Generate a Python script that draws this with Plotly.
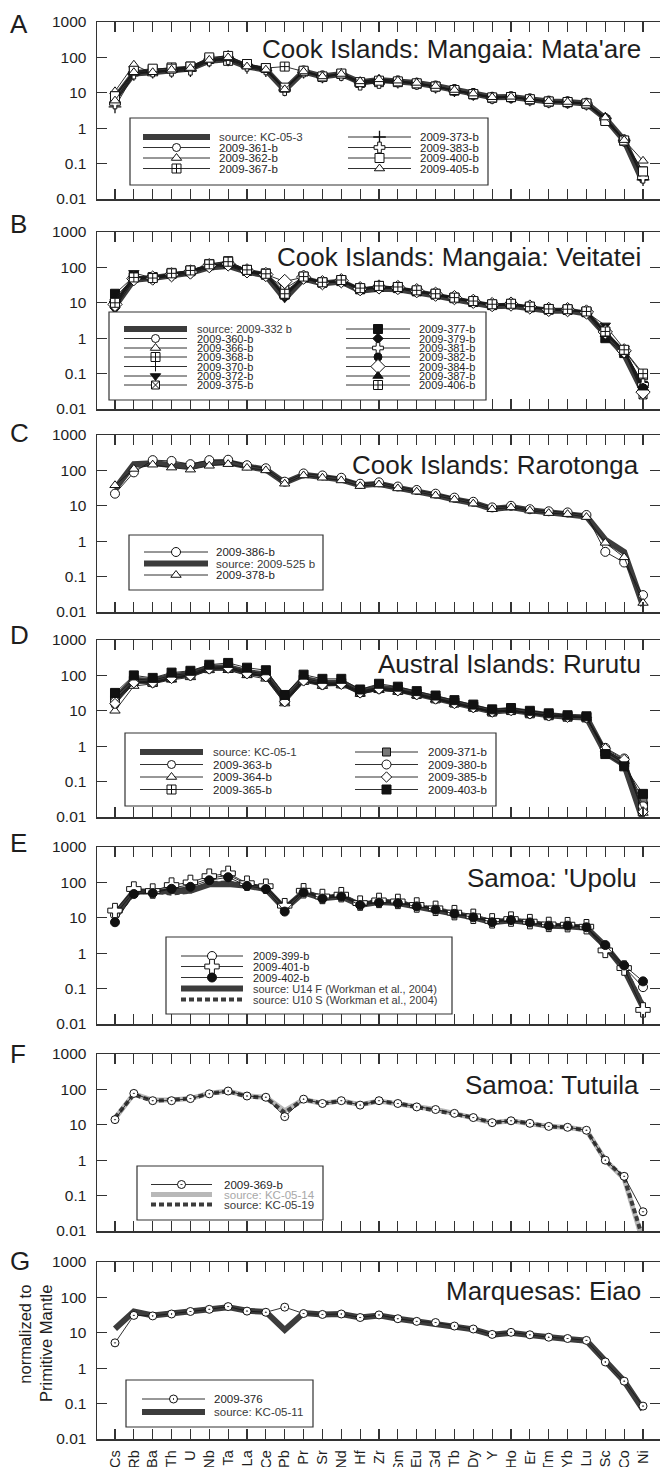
import plotly.graph_objects as go

# ---------------- data ----------------
ELEMENTS = ["Cs", "Rb", "Ba", "Th", "U", "Nb", "Ta", "La", "Ce", "Pb", "Pr", "Sr", "Nd", "Hf",
            "Zr", "Sm", "Eu", "Gd", "Tb", "Dy", "Y", "Ho", "Er", "Tm", "Yb", "Lu", "Sc", "Co", "Ni"]
Y_TICKS = [0.01, 0.1, 1, 10, 100, 1000]
Y_TICK_TEXT = ["0.01", "0.1", "1", "10", "100", "1000"]

# Panel A - Cook Islands: Mangaia: Mata'are
A_KC05_3 = [7, 35, 38, 42, 48, 80, 88, 55, 45, 12, 40, 29, 34, 20, 23, 21, 19, 15.5, 12, 9.2, 7.5, 7.6, 6.6, 5.7, 5.5, 5.0, 1.9, 0.45, 0.03]
A_361 = [8, 38, 40, 45, 50, 85, 95, 60, 48, 13, 42, 29, 33, 20, 23, 21, 18, 15, 11.5, 9.2, 7.4, 7.6, 6.6, 5.7, 5.5, 5.0, 2.0, 0.47, 0.045]
A_362 = [11, 62, 35, 45, 55, 88, 118, 55, 48, 13, 43, 29, 36, 21, 25, 22, 19, 15, 12, 9.5, 7.8, 7.8, 6.8, 5.8, 5.6, 5.1, 2.0, 0.46, 0.04]
A_367 = [8, 40, 45, 52, 55, 90, 80, 65, 50, 55, 40, 28, 34, 19, 20, 20, 18, 15, 11.5, 9, 7.2, 7.5, 6.4, 5.6, 5.4, 4.9, 1.7, 0.44, 0.06]
A_373 = [4, 33, 38, 40, 42, 80, 85, 52, 42, 12, 38, 28, 32, 19, 21, 20, 18, 14.5, 11.5, 9, 7.1, 7.4, 6.3, 5.5, 5.3, 4.8, 1.9, 0.45, 0.035]
A_383 = [5, 35, 40, 42, 45, 82, 90, 58, 46, 12, 40, 29, 32, 17, 19, 21, 18, 15, 12, 9.3, 7.2, 7.5, 6.5, 5.6, 5.4, 4.9, 1.8, 0.45, 0.04]
A_400 = [8, 42, 48, 48, 55, 100, 110, 65, 50, 14, 42, 29, 35, 20, 22, 21, 18.5, 15, 12, 9.2, 7.4, 7.6, 6.6, 5.7, 5.5, 5.0, 1.6, 0.45, 0.06]
A_405 = [6, 38, 38, 45, 50, 85, 100, 55, 45, 12.5, 40, 29, 34, 21, 24, 22, 19, 15.5, 12, 9.5, 7.5, 7.7, 6.6, 5.8, 5.5, 5.0, 2.0, 0.46, 0.12]

# Panel B - Cook Islands: Mangaia: Veitatei
B_332 = [8, 45, 50, 58, 70, 100, 110, 75, 60, 13, 48, 35, 40, 22, 25, 24, 20, 16, 12.5, 10, 8, 8.3, 7, 6, 6, 5, 1.3, 0.35, 0.03]
B_360 = [9, 50, 50, 62, 75, 115, 130, 80, 62, 18, 52, 38, 42, 25, 28, 27, 22, 18, 14, 11, 9, 9.3, 7.7, 6.6, 6.5, 5.6, 1.5, 0.45, 0.04]
B_366 = [10, 48, 52, 60, 72, 110, 125, 78, 60, 16, 50, 37, 42, 24, 28, 26, 21, 17.5, 13.5, 10.8, 8.8, 9.2, 7.6, 6.5, 6.4, 5.5, 1.6, 0.45, 0.05]
B_368 = [10, 52, 53, 70, 82, 125, 150, 85, 68, 20, 55, 38, 44, 26, 30, 28, 22, 18, 14, 11, 9, 9.3, 7.7, 6.6, 6.5, 5.6, 1.5, 0.46, 0.09]
B_370 = [7, 45, 48, 55, 65, 100, 110, 72, 58, 14, 48, 35, 40, 23, 26, 25, 20, 16.5, 13, 10.3, 8.2, 8.6, 7.2, 6.2, 6.1, 5.3, 1.5, 0.42, 0.035]
B_372 = [6.5, 70, 50, 62, 75, 115, 120, 78, 62, 16, 52, 36, 40, 24, 27, 26, 21, 17, 13.5, 10.5, 8.5, 9, 7.5, 6.4, 6.3, 5.4, 2.3, 0.5, 0.035]
B_375 = [9, 50, 50, 65, 78, 118, 135, 82, 65, 25, 54, 38, 43, 25, 29, 27, 22, 17.5, 14, 11, 9, 9.2, 7.7, 6.6, 6.5, 5.6, 1.5, 0.43, 0.025]
B_377 = [18, 55, 52, 65, 78, 115, 130, 80, 62, 17, 52, 37, 41, 24, 28, 26, 21, 17, 13.5, 10.5, 8.6, 9, 7.4, 6.4, 6.3, 5.4, 1.0, 0.38, 0.045]
B_379 = [12, 50, 48, 60, 72, 108, 120, 76, 60, 15, 50, 36, 40, 24, 27, 25.5, 21, 17, 13.5, 10.5, 8.5, 9, 7.4, 6.3, 6.2, 5.4, 1.4, 0.4, 0.04]
B_381 = [10, 50, 50, 62, 75, 112, 128, 80, 62, 17, 52, 37, 42, 25, 28, 27, 22, 17.5, 14, 11, 8.8, 9.2, 7.6, 6.5, 6.4, 5.5, 1.5, 0.44, 0.05]
B_382 = [14, 52, 50, 62, 74, 110, 125, 78, 60, 16, 50, 36, 41, 24, 27, 26, 21, 17, 13.5, 10.6, 8.6, 9, 7.5, 6.4, 6.3, 5.4, 1.3, 0.4, 0.04]
B_384 = [9, 48, 50, 62, 74, 112, 125, 80, 63, 40, 53, 37, 42, 25, 28, 27, 22, 17.5, 14, 11, 8.9, 9.2, 7.6, 6.5, 6.4, 5.5, 1.5, 0.44, 0.03]
B_387 = [12, 55, 52, 63, 76, 115, 128, 80, 62, 17, 52, 37, 41, 24, 28, 26, 21, 17, 13.5, 10.6, 8.6, 9, 7.5, 6.4, 6.3, 5.4, 1.3, 0.4, 0.04]
B_406 = [10, 52, 50, 68, 82, 122, 145, 85, 66, 18, 55, 38, 44, 26, 30, 28, 22.5, 18, 14, 11.2, 9.1, 9.4, 7.8, 6.7, 6.6, 5.7, 1.55, 0.47, 0.1]

# Panel C - Cook Islands: Rarotonga
C_386 = [22, 88, 195, 185, 150, 195, 200, 140, 115, 48, 82, 72, 62, 42, 46, 35, 28, 22, 17, 13, 9, 10, 8, 7, 6.5, 5.5, 0.5, 0.25, 0.03]
C_525 = [30, 150, 160, 150, 130, 165, 170, 130, 105, 45, 75, 65, 55, 38, 42, 32, 26, 20, 15, 12, 8.2, 9.2, 7.5, 6.4, 6, 5, 1.1, 0.5, 0.015]
C_378 = [38, 110, 145, 120, 105, 135, 150, 118, 100, 42, 72, 62, 52, 36, 40, 31, 25, 19.5, 15, 11.5, 8, 9, 7.3, 6.2, 5.8, 4.8, 0.9, 0.35, 0.018]

# Panel D - Austral Islands: Rurutu
D_KC05_1 = [22, 75, 70, 95, 110, 165, 170, 125, 105, 22, 80, 62, 62, 35, 45, 40, 30, 23, 17, 13, 9.5, 10.5, 8.5, 7.5, 6.8, 6.5, 0.65, 0.3, 0.008]
D_363 = [15, 60, 60, 80, 95, 150, 160, 110, 90, 18, 70, 52, 55, 32, 40, 36, 28, 21, 16, 12, 9, 10, 8.2, 7.2, 6.6, 6.3, 0.75, 0.4, 0.015]
D_364 = [10, 50, 58, 75, 88, 140, 140, 100, 80, 16, 65, 50, 52, 30, 38, 34, 27, 20.5, 15.5, 12, 9, 10, 8.2, 7.2, 6.6, 6.3, 0.8, 0.38, 0.013]
D_365 = [20, 70, 65, 90, 105, 160, 170, 120, 100, 20, 75, 58, 60, 34, 44, 39, 30, 22.5, 17, 13, 9.5, 10.5, 8.5, 7.5, 6.8, 6.5, 0.7, 0.35, 0.02]
D_371 = [25, 80, 72, 100, 115, 170, 180, 130, 110, 23, 82, 64, 64, 36, 46, 41, 31, 23.5, 17.5, 13.5, 9.8, 10.8, 8.7, 7.6, 6.9, 6.6, 0.7, 0.33, 0.03]
D_380 = [18, 65, 62, 85, 100, 155, 165, 115, 95, 19, 72, 55, 58, 33, 42, 38, 29, 22, 16.5, 12.5, 9.3, 10.3, 8.3, 7.3, 6.7, 6.4, 0.9, 0.45, 0.02]
D_385 = [16, 62, 62, 82, 98, 152, 160, 112, 92, 18, 70, 54, 56, 32, 41, 37, 28.5, 21.5, 16, 12.3, 9.2, 10.2, 8.2, 7.2, 6.6, 6.3, 0.85, 0.42, 0.014]
D_403 = [32, 100, 85, 120, 135, 200, 225, 165, 140, 28, 105, 80, 80, 40, 58, 48, 36, 27, 20, 15, 11, 12, 10, 8.5, 7.5, 7, 0.6, 0.27, 0.045]

# Panel E - Samoa: 'Upolu
E_399 = [12, 55, 52, 70, 85, 130, 160, 90, 72, 20, 55, 37, 42, 24, 29, 27, 22, 17.5, 13.5, 10.5, 7.8, 8.8, 7.5, 6.2, 6.1, 5.5, 1.5, 0.42, 0.11]
E_401 = [16, 65, 57, 84, 100, 150, 180, 95, 78, 22, 58, 40, 45, 26, 31, 29, 23, 18.5, 14, 11, 8.2, 9.2, 7.8, 6.5, 6.4, 5.6, 1.2, 0.38, 0.025]
E_402 = [7.5, 47, 50, 66, 75, 115, 140, 80, 65, 15, 52, 35, 40, 23, 27, 26, 21, 17, 13, 10.3, 7.5, 8.6, 7.4, 6, 6, 5.4, 1.7, 0.45, 0.16]
E_U14F = [12, 55, 55, 55, 58, 88, 90, 80, 65, 18, 52, 36, 40, 23, 28, 26, 21, 17, 13, 10.3, 7.5, 8.5, 7.3, 6, 5.8, 5.2, 1.6, 0.35, 0.03]
E_U10S = [10, 50, 55, 48, 55, 95, 100, 80, 65, 18, 55, 38, 42, 25, 31, 28, 22.5, 18, 14, 10.8, 8, 9, 7.7, 6.3, 6.2, 5.5, 1.4, 0.4, 0.035]

# Panel F - Samoa: Tutuila
F_369 = [14, 77, 48, 48, 55, 75, 90, 65, 60, 17, 53, 40, 48, 36, 48, 40, 32, 27, 21, 16, 11.5, 13, 11, 9, 8.5, 7, 1.0, 0.35, 0.035]
F_KC05_14 = [15, 75, 50, 50, 55, 78, 90, 65, 60, 25, 52, 40, 48, 37, 47, 40, 32, 27, 21, 16, 11.5, 13, 11, 9, 8.5, 7, 1.0, 0.3, 0.005]
F_KC05_19 = [16, 72, 47, 50, 55, 76, 88, 63, 58, 22, 52, 40, 47, 37, 47, 40, 32, 26, 21, 16, 11.5, 13, 11, 9, 8.4, 7, 1.0, 0.32, 0.006]

# Panel G - Marquesas: Eiao
G_376 = [5.2, 31, 30, 34, 40, 46, 55, 41, 38, 53, 35, 33, 34, 27, 32, 25, 21, 19.5, 15.5, 12.8, 9, 10.3, 8.8, 7.5, 6.9, 6.1, 1.5, 0.43, 0.085]
G_KC05_11 = [13, 40, 31, 35, 40, 46, 53, 42, 39, 12, 36, 33, 34, 27, 31, 25, 21, 19, 15, 12.5, 8.8, 10, 8.6, 7.3, 6.7, 6, 1.5, 0.43, 0.068]

# ---------------- panel definitions (legend order) ----------------
PANELS = [
    dict(letter="A", title="Cook Islands: Mangaia: Mata'are", series=[
        ("source: KC-05-3", A_KC05_3, "src"), ("2009-361-b", A_361, "circle"),
        ("2009-362-b", A_362, "triangle"), ("2009-367-b", A_367, "square_cross"),
        ("2009-373-b", A_373, "plus_thin"), ("2009-383-b", A_383, "plus_fat"),
        ("2009-400-b", A_400, "square"), ("2009-405-b", A_405, "triangle")]),
    dict(letter="B", title="Cook Islands: Mangaia: Veitatei", series=[
        ("source: 2009-332 b", B_332, "src"), ("2009-360-b", B_360, "circle"),
        ("2009-366-b", B_366, "triangle"), ("2009-368-b", B_368, "square_cross"),
        ("2009-370-b", B_370, "plus_thin_small"), ("2009-372-b", B_372, "tri_down_black"),
        ("2009-375-b", B_375, "square_slash"), ("2009-377-b", B_377, "square_black"),
        ("2009-379-b", B_379, "diamond_black_small"), ("2009-381-b", B_381, "plus_fat"),
        ("2009-382-b", B_382, "circle_black"), ("2009-384-b", B_384, "diamond"),
        ("2009-387-b", B_387, "triangle_black"), ("2009-406-b", B_406, "square_cross")]),
    dict(letter="C", title="Cook Islands: Rarotonga", series=[
        ("2009-386-b", C_386, "circle_big"), ("source: 2009-525 b", C_525, "src"),
        ("2009-378-b", C_378, "triangle")]),
    dict(letter="D", title="Austral Islands: Rurutu", series=[
        ("source: KC-05-1", D_KC05_1, "src"), ("2009-363-b", D_363, "circle"),
        ("2009-364-b", D_364, "triangle"), ("2009-365-b", D_365, "square_cross"),
        ("2009-371-b", D_371, "square_half"), ("2009-380-b", D_380, "circle_big"),
        ("2009-385-b", D_385, "diamond_small"), ("2009-403-b", D_403, "square_black")]),
    dict(letter="E", title="Samoa: 'Upolu", series=[
        ("2009-399-b", E_399, "circle_big"), ("2009-401-b", E_401, "plus_fat_big"),
        ("2009-402-b", E_402, "circle_black_big"),
        ("source: U14 F (Workman et al., 2004)", E_U14F, "src"),
        ("source: U10 S (Workman et al., 2004)", E_U10S, "src_dot")]),
    dict(letter="F", title="Samoa: Tutuila", series=[
        ("2009-369-b", F_369, "circle_dot"), ("source: KC-05-14", F_KC05_14, "src_light"),
        ("source: KC-05-19", F_KC05_19, "src_dot")]),
    dict(letter="G", title="Marquesas: Eiao", series=[
        ("2009-376", G_376, "circle_dot"), ("source: KC-05-11", G_KC05_11, "src")]),
]

# ---------------- layout geometry (pixels) ----------------
W, H = 660, 1467
X_LEFT = 97
PANEL_TOPS = [22, 232, 435, 640, 847, 1054, 1262]
PANEL_H = 177
TITLE_POS = [(643, 49), (643, 257), (641, 465), (643, 664), (639, 878), (641, 1085), (643, 1291)]
LETTER_Y = [24, 224, 433, 635, 843, 1054, 1261]
LEGENDS = [
    dict(box=(130, 118, 488, 185), cols=[(143, 210, 217), (348, 411, 418)], rows=[137, 147.5, 158, 168.5], fs=11.5),
    dict(box=(109, 312, 486, 400), cols=[(124, 187, 195), (346, 410, 417)],
         rows=[329, 338.5, 348, 357, 366.5, 376, 385], fs=11),
    dict(box=(129, 535, 323, 590), cols=[(144, 208, 214)], rows=[552, 563.5, 575], fs=11.5),
    dict(box=(125, 733, 496, 806), cols=[(140, 203, 211), (355, 418, 426)], rows=[752, 764.5, 777, 789.5], fs=11.5),
    dict(box=(166, 937, 452, 1014), cols=[(181, 243, 251)], rows=[956, 966.5, 977.5, 988.5, 999.5], fs=11),
    dict(box=(137, 1166, 323, 1220), cols=[(151, 212, 222)], rows=[1184.5, 1194.5, 1204.5], fs=11.5),
    dict(box=(126, 1380, 313, 1427), cols=[(142, 205, 212)], rows=[1399, 1412], fs=11.5),
]

FONT = "Liberation Sans, Arial, Helvetica, sans-serif"
INK = "#1e1e1e"
FRAME = "#333333"


def mk(symbol, fill="white", size=8, lc="#111111", lw=1.0):
    return dict(symbol=symbol, size=size, color=fill, line=dict(color=lc, width=lw))


THIN = dict(color="#1a1a1a", width=0.9)
STYLES = {
    "src": dict(line=dict(color="#3c3c3c", width=6), marker=None, text="#3a3a3a"),
    "src_light": dict(line=dict(color="#b8b8b8", width=5), marker=None, text="#a8a8a8"),
    "src_dot": dict(line=dict(color="#3c3c3c", width=4, dash="5px,3px"), marker=None, text="#3a3a3a"),
    "circle": dict(line=THIN, marker=mk("circle", size=8)),
    "circle_big": dict(line=THIN, marker=mk("circle", size=9)),
    "circle_dot": dict(line=THIN, marker=mk("circle-dot", size=8)),
    "circle_black": dict(line=THIN, marker=mk("circle", "#111111", 8)),
    "circle_black_big": dict(line=THIN, marker=mk("circle", "#111111", 9)),
    "triangle": dict(line=THIN, marker=mk("triangle-up", size=9)),
    "triangle_black": dict(line=THIN, marker=mk("triangle-up", "#111111", 9)),
    "tri_down_black": dict(line=THIN, marker=mk("triangle-down", "#111111", 9)),
    "square": dict(line=THIN, marker=mk("square", size=9)),
    "square_black": dict(line=THIN, marker=mk("square", "#111111", 9)),
    "square_cross": dict(line=THIN, marker=mk("square-cross", size=9)),
    "square_slash": dict(line=THIN, marker=mk("square-x", size=8)),
    "square_half": dict(line=THIN, marker=mk("square", "#777777", 8)),
    "plus_thin": dict(line=THIN, marker=mk("cross-thin", "#111111", 9, lw=1.3)),
    "plus_thin_small": dict(line=THIN, marker=mk("cross-thin", "#111111", 7, lw=1.0)),
    "plus_fat": dict(line=THIN, marker=mk("cross", size=9)),
    "plus_fat_big": dict(line=THIN, marker=mk("cross", size=12)),
    "diamond": dict(line=THIN, marker=mk("diamond", size=11)),
    "diamond_small": dict(line=THIN, marker=mk("diamond", size=8)),
    "diamond_black_small": dict(line=THIN, marker=mk("diamond", "#111111", 8)),
}

fig = go.Figure()
layout = dict(
    template="none",
    width=W, height=H, margin=dict(l=0, r=0, t=0, b=0, pad=0, autoexpand=False),
    paper_bgcolor="white", plot_bgcolor="rgba(0,0,0,0)", showlegend=False,
    font=dict(family=FONT, color=INK),
)
annotations = []
shapes = []

for i, panel in enumerate(PANELS):
    n = i + 1
    xa, ya = ("x", "y") if n == 1 else (f"x{n}", f"y{n}")
    top = PANEL_TOPS[i]
    xkey = "xaxis" if n == 1 else f"xaxis{n}"
    ykey = "yaxis" if n == 1 else f"yaxis{n}"
    layout[xkey] = dict(
        domain=[X_LEFT / W, 1.0], anchor=ya, type="category", categoryorder="array",
        categoryarray=ELEMENTS, range=[-0.954, 28.9], showline=True, linecolor=FRAME,
        linewidth=1.5, mirror="ticks", ticks="inside", ticklen=10, tickwidth=1.2,
        tickcolor=FRAME, showgrid=False, zeroline=False, showticklabels=(n == 7),
        tickangle=-90, tickfont=dict(size=14.5, color=INK, family=FONT), ticklabelstandoff=4,
        fixedrange=True, automargin=False,
    )
    layout[ykey] = dict(
        domain=[1 - (top + PANEL_H) / H, 1 - top / H], anchor=xa, type="log", range=[-2, 3],
        tickvals=Y_TICKS, ticktext=Y_TICK_TEXT, showline=True, linecolor=FRAME, linewidth=1.5,
        mirror="ticks", ticks="inside", ticklen=10, tickwidth=1.2, tickcolor=FRAME,
        showgrid=False, zeroline=False, tickfont=dict(size=15.5, color=INK, family=FONT),
        ticklabelstandoff=6, fixedrange=True, automargin=False,
    )
    series = panel["series"]
    ordered = [s for s in series if s[2].startswith("src")] + [s for s in series if not s[2].startswith("src")]
    for name, vals, key in ordered:
        st = STYLES[key]
        tr = dict(x=ELEMENTS, y=vals, name=name, xaxis=xa, yaxis=ya, line=st["line"], showlegend=False)
        if st["marker"]:
            tr.update(mode="lines+markers", marker=st["marker"])
        else:
            tr.update(mode="lines")
        fig.add_trace(go.Scatter(**tr))

    # panel letter and title
    annotations.append(dict(x=8, y=LETTER_Y[i], xref="x8", yref="y8", text=panel["letter"],
                            showarrow=False, xanchor="left", yanchor="middle",
                            font=dict(size=26, color=INK, family=FONT)))
    tx, ty = TITLE_POS[i]
    annotations.append(dict(x=tx, y=ty, xref="x8", yref="y8", text=panel["title"], showarrow=False,
                            xanchor="right", yanchor="middle",
                            font=dict(size=26, color=INK, family=FONT)))

    # legend box and entries
    lg = LEGENDS[i]
    bx0, by0, bx1, by1 = lg["box"]
    shapes.append(dict(type="rect", xref="x8", yref="y8", x0=bx0, y0=by0, x1=bx1, y1=by1,
                       line=dict(color=FRAME, width=1.2), fillcolor="white", layer="below"))
    nrows = len(lg["rows"])
    for k, (name, vals, key) in enumerate(series):
        col = lg["cols"][k // nrows]
        ry = lg["rows"][k % nrows]
        lx0, lx1, ltx = col
        st = STYLES[key]
        fig.add_trace(go.Scatter(x=[lx0, lx1], y=[ry, ry], mode="lines", line=st["line"],
                                 xaxis="x8", yaxis="y8", showlegend=False, hoverinfo="skip"))
        if st["marker"]:
            fig.add_trace(go.Scatter(x=[(lx0 + lx1) / 2], y=[ry], mode="markers", marker=st["marker"],
                                     xaxis="x8", yaxis="y8", showlegend=False, hoverinfo="skip"))
        annotations.append(dict(x=ltx, y=ry, xref="x8", yref="y8", text=name, showarrow=False,
                                xanchor="left", yanchor="middle",
                                font=dict(size=lg["fs"], color=st.get("text", INK), family=FONT)))

# pixel overlay axes for legends / labels
layout["xaxis8"] = dict(domain=[0, 1], range=[0, W], anchor="y8", visible=False, fixedrange=True, automargin=False)
layout["yaxis8"] = dict(domain=[0, 1], range=[H, 0], anchor="x8", visible=False, fixedrange=True, automargin=False)

annotations.append(dict(x=35, y=1344, xref="x8", yref="y8", text="normalized to<br>Primitive Mantle",
                        showarrow=False, textangle=-90, align="right", xanchor="center",
                        yanchor="middle", font=dict(size=16.5, color=INK, family=FONT)))

layout["annotations"] = annotations
layout["shapes"] = shapes
fig.update_layout(**layout)
fig.write_html(
    "out.html",
    config={"displayModeBar": False, "staticPlot": True},
    post_script="document.body.style.margin='0';document.body.style.padding='0';",
)
